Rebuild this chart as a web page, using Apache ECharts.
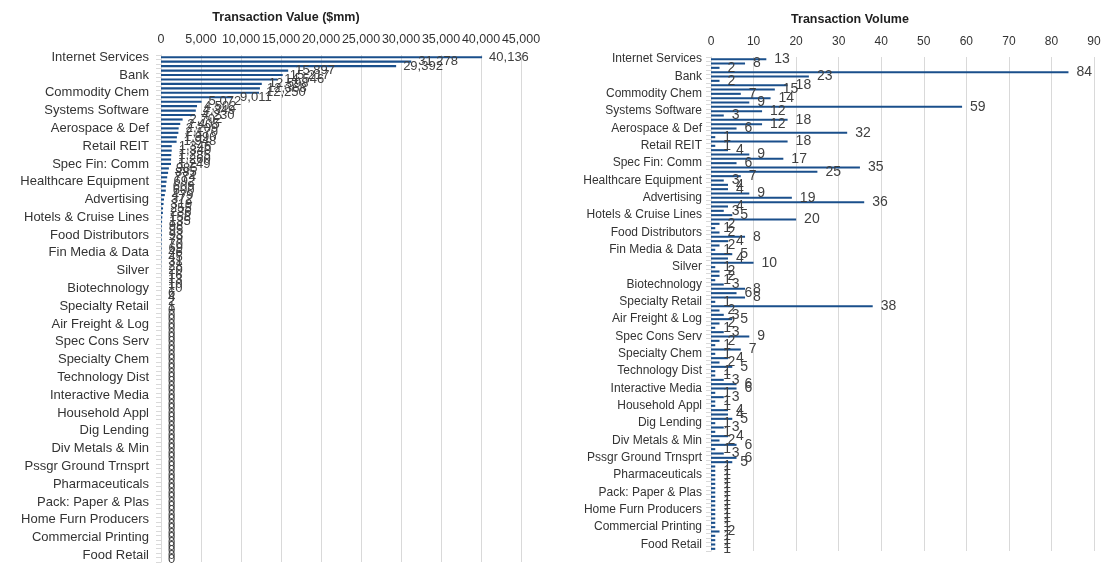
<!DOCTYPE html>
<html>
<head>
<meta charset="utf-8">
<script src="https://cdn.jsdelivr.net/npm/echarts@6/dist/echarts.min.js"></script>
<style>
  html, body { margin: 0; padding: 0; background: #fff; }
  #chart { width: 1120px; height: 567px; }
</style>
</head>
<body>
<div id="chart"></div>
<script>
// categories (only every 4th one is labelled on the axis)
const categories = [
  'Internet Services', 'Investment Banking', 'Electric Utilities', 'Asset Mgmt',
  'Bank', 'Oil & Gas E&P', 'Application Software', 'Life Sci Tools',
  'Commodity Chem', 'IT Consulting', 'Real Estate Svcs', 'Insurance Brokers',
  'Systems Software', 'Semiconductors', 'Managed Health Care', 'Diversified REIT',
  'Aerospace & Def', 'Industrial Machinery', 'Electrical Comp', 'Construction & Eng',
  'Retail REIT', 'Health Care Svcs', 'Trucking', 'Data Processing',
  'Spec Fin: Comm', 'Movies & Ent', 'Building Products', 'Env Services',
  'Healthcare Equipment', 'Restaurants', 'Casinos & Gaming', 'Auto Parts',
  'Advertising', 'Office REIT', 'Consumer Finance', 'Apparel Retail',
  'Hotels & Cruise Lines', 'Education Svcs', 'Packaged Foods', 'Research & Consult',
  'Food Distributors', 'Comm Equipment', 'Electronic Comp', 'Leisure Products',
  'Fin Media & Data', 'Distributors', 'Gold', 'Steel',
  'Silver', 'Broadcasting', 'Publishing', 'Tires & Rubber',
  'Biotechnology', 'Paper Products', 'Home Building', 'Cable & Satellite',
  'Specialty Retail', 'Reinsurance', 'Marine Transport', 'Human Resources',
  'Air Freight & Log', 'Agri Products', 'Brewers', 'Soft Drinks',
  'Spec Cons Serv', 'Drug Retail', 'Renewable Elec', 'Copper',
  'Specialty Chem', 'Fertilizers', 'Forest Products', 'Railroads',
  'Technology Dist', 'Security & Alarm', 'Airport Svcs', 'Footwear',
  'Interactive Media', 'Health Care Tech', 'Homefurnishing Ret', 'Computer Retail',
  'Household Appl', 'Housewares', 'Personal Products', 'Tobacco',
  'Dig Lending', 'Mortgage REIT', 'Thrifts', 'Coal & Fuels',
  'Div Metals & Min', 'Aluminum', 'Precious Metals', 'Gas Utilities',
  'Pssgr Ground Trnsprt', 'Airlines', 'Highways & Rail', 'Water Utilities',
  'Pharmaceuticals', 'Distillers', 'Agri Machinery', 'Heavy Trucks',
  'Pack: Paper & Plas', 'Metal Containers', 'Glass Packaging', 'Textiles',
  'Home Furn Producers', 'Office Services', 'Diversified Support', 'Motorcycle Mfrs',
  'Commercial Printing', 'Hypermarkets', 'Wireless Telecom', 'Alt Carriers',
  'Food Retail', 'Timber REIT'
];

// Transaction Value ($mm)
const txValue = [
  40136, 31278, 29392, 15897, 15217, 14546, 12598, 12368, 12250, 9011,
  5072, 4502, 4349, 4230, 2702, 2405, 2209, 2170, 1990, 1948,
  1346, 1340, 1285, 1260, 1249, 985, 885, 774, 692, 609,
  600, 479, 372, 319, 255, 236, 158, 135, 98, 95,
  93, 79, 70, 69, 46, 45, 31, 28, 20, 16,
  13, 10, 10, 6, 4, 2, 1, 0, 0, 0,
  0, 0, 0, 0, 0, 0, 0, 0, 0, 0,
  0, 0, 0, 0, 0, 0, 0, 0, 0, 0,
  0, 0, 0, 0, 0, 0, 0, 0, 0, 0,
  0, 0, 0, 0, 0, 0, 0, 0, 0, 0,
  0, 0, 0, 0, 0, 0, 0, 0, 0, 0,
  0, 0, 0, 0
];

// Transaction Volume (count)
const txVolume = [
  13, 8, 2, 84, 23, 2, 18, 15, 7, 14,
  9, 59, 12, 3, 18, 12, 6, 32, 1, 18,
  1, 4, 9, 17, 6, 35, 25, 7, 3, 4,
  4, 9, 19, 36, 4, 3, 5, 20, 2, 1,
  2, 8, 4, 2, 1, 5, 4, 10, 1, 2,
  2, 1, 3, 8, 6, 8, 1, 38, 2, 3,
  5, 2, 1, 3, 9, 2, 1, 7, 1, 4,
  2, 5, 1, 1, 3, 6, 6, 1, 3, 1,
  1, 4, 4, 5, 1, 3, 1, 4, 2, 6,
  1, 3, 6, 5, 1, 1, 1, 1, 1, 1,
  1, 1, 1, 1, 1, 1, 1, 1, 1, 2,
  1, 1, 1, 1
];

const valueTicks = { min: 0, max: 45000, interval: 5000 };
const volumeTicks = { min: 0, max: 90, interval: 10 };

const FONT = 'Liberation Sans, Arial, sans-serif';
const BAR = '#1a4f8b';
const GRID = '#d9d9d9';
const TXT = '#404040';
const CAT_TXT = '#333333';

const fmt = (v) => Number(v).toLocaleString('en-US');

function catAxis(gridIndex, fontSize, margin) {
  return {
    type: 'category',
    gridIndex: gridIndex,
    data: categories,
    inverse: true,
    axisLine: { show: true, lineStyle: { color: GRID } },
    axisTick: { show: true, interval: 0, length: 5, lineStyle: { color: GRID } },
    axisLabel: {
      interval: 3, color: CAT_TXT, fontSize: fontSize, fontFamily: FONT,
      margin: margin, hideOverlap: false
    }
  };
}

function valAxis(gridIndex, ticks, fontSize) {
  return {
    type: 'value',
    gridIndex: gridIndex,
    position: 'top',
    min: ticks.min,
    max: ticks.max,
    interval: ticks.interval,
    axisLine: { show: false },
    axisTick: { show: false },
    splitLine: { show: true, lineStyle: { color: GRID } },
    axisLabel: { color: CAT_TXT, fontSize: fontSize, fontFamily: FONT, margin: 9, formatter: fmt }
  };
}

const chart = echarts.init(document.getElementById('chart'), null, { renderer: 'canvas' });

chart.setOption({
  animation: false,
  backgroundColor: '#ffffff',
  title: [
    {
      text: 'Transaction Value ($mm)', left: 281, top: 6, textAlign: 'center',
      textStyle: { fontSize: 12.5, fontWeight: 'bold', color: '#1f1f1f', fontFamily: FONT }
    },
    {
      text: 'Transaction Volume', left: 845, top: 8, textAlign: 'center',
      textStyle: { fontSize: 12.5, fontWeight: 'bold', color: '#1f1f1f', fontFamily: FONT }
    }
  ],
  grid: [
    { left: 161, top: 55, width: 360, height: 507 },
    { left: 711, top: 57, width: 383, height: 494 }
  ],
  xAxis: [valAxis(0, valueTicks, 12.5), valAxis(1, volumeTicks, 12)],
  yAxis: [catAxis(0, 13, 12), catAxis(1, 12, 9)],
  series: [
    {
      type: 'bar',
      xAxisIndex: 0,
      yAxisIndex: 0,
      data: txValue,
      barCategoryGap: '52%',
      itemStyle: { color: BAR },
      label: {
        show: true, position: 'right', distance: 7,
        color: TXT, fontSize: 13, fontFamily: FONT, formatter: (p) => fmt(p.value)
      }
    },
    {
      type: 'bar',
      xAxisIndex: 1,
      yAxisIndex: 1,
      data: txVolume,
      barCategoryGap: '52%',
      itemStyle: { color: BAR },
      label: {
        show: true, position: 'right', distance: 8,
        color: TXT, fontSize: 14, fontFamily: FONT
      }
    }
  ]
});
</script>
</body>
</html>
